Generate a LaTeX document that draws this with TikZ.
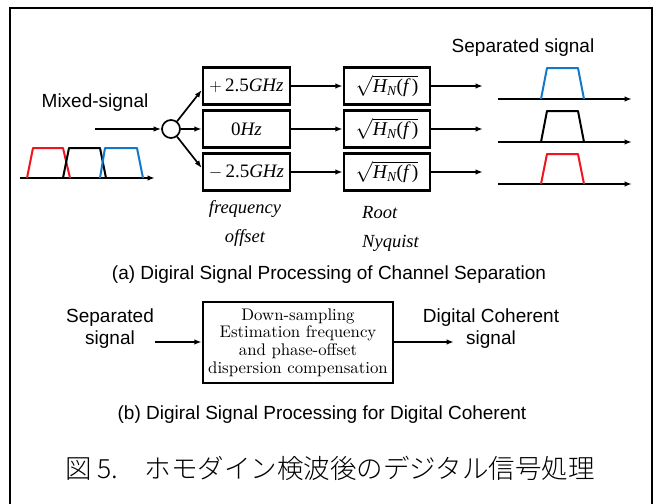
\documentclass[tikz,border=0pt]{standalone}
\usepackage{fontspec}
\usepackage{amsmath}
\usetikzlibrary{arrows.meta}
\newfontfamily\arialf{Liberation Sans}
\newfontfamily\timesf{Liberation Serif}
\newfontfamily\cjkf{Noto Sans CJK JP}[UprightFont={* Light}]
\newfontfamily\lmten{lmroman10-regular}[Extension=.otf]
\definecolor{sigred}{RGB}{240,20,30}
\definecolor{sigblue}{RGB}{20,120,200}
\begin{document}
\begin{tikzpicture}[x=1pt,y=-1pt,
  arr/.style={-{Latex[length=7.5pt,width=5.5pt]}, line width=1.7pt},
  blk/.style={draw, line width=2.5pt, minimum height=37pt, inner sep=0pt},
  fobox/.style={blk, minimum width=87pt, font=\timesf\fontsize{19}{22}\selectfont},
  rnbox/.style={blk, minimum width=86pt, font=\timesf\fontsize{19.5}{22}\selectfont},
  sans/.style={font=\arialf\fontsize{19}{22}\selectfont, align=center, inner sep=0pt},
  itlab/.style={font=\timesf\itshape\fontsize{18.5}{22}\selectfont, inner sep=0pt},
  spec/.style={line width=2pt, line join=round},
  axis/.style={-{Latex[length=7.5pt,width=5.5pt]}, line width=1.7pt}
]
\useasboundingbox (0,0) rectangle (657,504);
% frame
\draw[line width=2.4pt] (10,504) -- (10,8) -- (652,8) -- (652,504);

% ---------- part (a) ----------
\node[sans] (mixlab) at (95,103) {Mixed-signal};
\coordinate (inA) at (95,129);
\node[draw, circle, line width=1.7pt, minimum size=18pt, inner sep=0pt] (c) at (171,129) {};
\draw[arr] (inA) -- (c);

\node[fobox] (fo1) at (246.5,86) {$+$\,2.5\textit{GHz}};
\node[fobox] (fo2) at (246.5,129) {0\textit{Hz}};
\node[fobox] (fo3) at (246.5,172) {$-$\,2.5\textit{GHz}};

\draw[arr] (c) -- ([yshift=-4pt]fo1.west);
\draw[arr] (c) -- (fo2.west);
\draw[arr] (c) -- ([yshift=4pt]fo3.west);

\newcommand{\hnf}{$\sqrt{\text{\timesf\itshape H}_{\text{\timesf\itshape N}}\text{\timesf(\itshape f\,\upshape)}}$}
\node[rnbox] (rn1) at (387,86) {\hnf};
\node[rnbox] (rn2) at (387,129) {\hnf};
\node[rnbox] (rn3) at (387,172) {\hnf};

\draw[arr] (fo1) -- (rn1);
\draw[arr] (fo2) -- (rn2);
\draw[arr] (fo3) -- (rn3);

\coordinate (o1) at (483,86);
\coordinate (o2) at (483,129);
\coordinate (o3) at (483,172);
\draw[arr] (rn1) -- (o1);
\draw[arr] (rn2) -- (o2);
\draw[arr] (rn3) -- (o3);

\node[itlab] (fq) at (245,209) {frequency};
\node[itlab] (of) at (245,238) {offset};
\node[itlab, anchor=west] (rt) at (362,213) {Root};
\node[itlab, anchor=west] (ny) at (362,243) {Nyquist};

% input spectrum
\coordinate (ax0) at (20,178);
\coordinate (ax1) at (155,178);
\draw[axis] (ax0) -- (ax1);
\draw[spec, sigred]  (27,178) -- (33,148) -- (63,148) -- (70,178);
\draw[spec, black]   (63,178) -- (69,148) -- (100,148) -- (106,178);
\draw[spec, sigblue] (100,178) -- (105,148) -- (137,148) -- (143,178);

% separated spectra
\node[sans] (seplab) at (523,48) {Separated signal};
\coordinate (b1a) at (498,99);  \coordinate (b1b) at (632,99);
\coordinate (b2a) at (498,142); \coordinate (b2b) at (632,142);
\coordinate (b3a) at (498,184); \coordinate (b3b) at (632,184);
\draw[axis] (b1a) -- (b1b);
\draw[axis] (b2a) -- (b2b);
\draw[axis] (b3a) -- (b3b);
\draw[spec, sigblue] (541,99) -- (547,68) -- (578,68) -- (584,99);
\draw[spec, black]   (541,142) -- (547,111) -- (578,111) -- (584,142);
\draw[spec, sigred]  (541,184) -- (547,154) -- (578,154) -- (584,184);

\node[sans] (capa) at (329,275) {(a) Digiral Signal Processing of Channel Separation};

% ---------- part (b) ----------
\node[sans] (sepin) at (110,329) {Separated\\signal};
\node[draw, line width=2.5pt, minimum width=190pt, minimum height=81pt, inner sep=0pt,
      align=center, font=\lmten\fontsize{16.8}{17.6}\selectfont] (dsp) at (298,342.5)
  {Down-sampling\\Estimation frequency\\and phase-offset\\dispersion compensation};
\coordinate (inB) at (155,342);
\coordinate (outB) at (454,342);
\draw[arr] (inB) -- (inB -| dsp.west);
\draw[arr] (outB -| dsp.east) -- (outB);
\node[sans] (dcout) at (491,329) {Digital Coherent\\signal};

\node[sans] (capb) at (322,415) {(b) Digiral Signal Processing for Digital Coherent};

\node[font=\cjkf\fontsize{26.5}{30}\selectfont, inner sep=0pt] (capjp) at (330,468) {図 5.\quad ホモダイン検波後のデジタル信号処理};
\end{tikzpicture}
\end{document}
